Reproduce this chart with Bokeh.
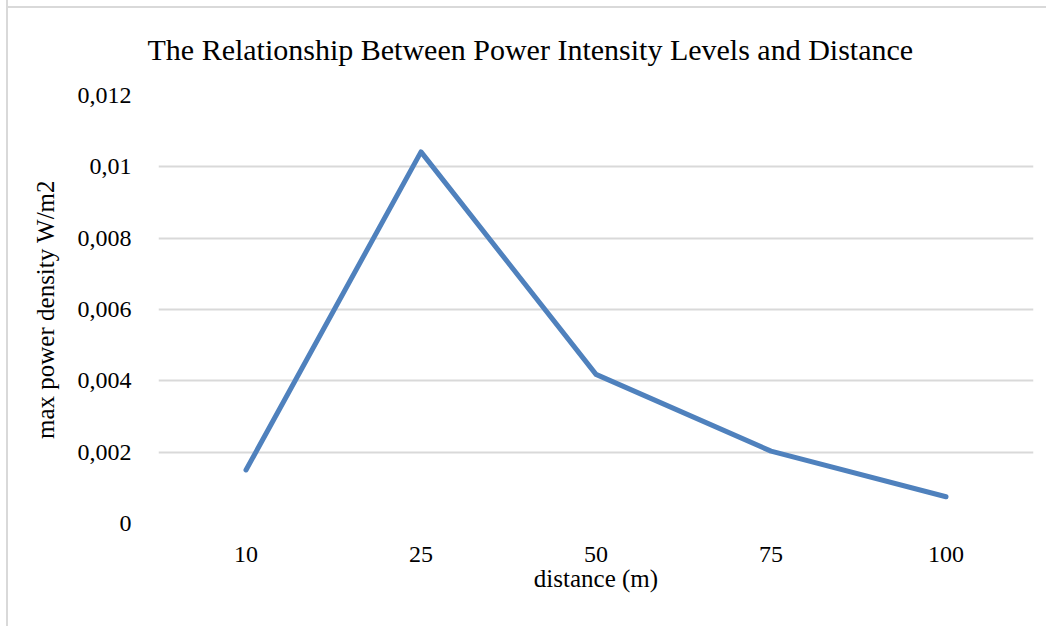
from bokeh.plotting import figure
from bokeh.models import FactorRange, Range1d, FixedTicker, CustomJSTickFormatter
from bokeh.embed import file_html
from bokeh.resources import INLINE

# Data
distances = ["10", "25", "50", "75", "100"]
power_density = [0.0015, 0.01042, 0.00418, 0.00203, 0.00075]
y_ticks = [0, 0.002, 0.004, 0.006, 0.008, 0.01, 0.012]
title_text = "The Relationship Between Power Intensity Levels and Distance"
x_label = "distance (m)"
y_label = "max power density W/m2"

FONT = "Liberation Serif"

p = figure(
    width=1040, height=626,
    x_range=FactorRange(*distances, range_padding=0),
    y_range=Range1d(0, 0.012),
    output_backend="svg", toolbar_location=None,
    min_border_left=150, min_border_right=15,
    min_border_top=93, min_border_bottom=103,
    title=title_text,
    styles={"margin-left": "6px", "margin-top": "0px",
            "border-left": "2px solid #d9d9d9",
            "background-color": "white",
            "background-image": "linear-gradient(#d9d9d9, #d9d9d9)",
            "background-size": "100% 2px",
            "background-position": "0px 6px",
            "background-repeat": "no-repeat"},
)
p.outline_line_color = None
p.background_fill_color = "white"
p.border_fill_color = None

p.title.text_font = FONT
p.title.text_font_size = "30px"
p.title.text_font_style = "normal"
p.title.text_color = "#000000"
p.title.text_line_height = 1.0
p.title.align = "left"
p.title.standoff = 60
p.title.offset = -11

p.line(distances, power_density, line_color="#4f81bd", line_width=5,
       line_cap="round", line_join="round")

# Y axis
p.yaxis.ticker = FixedTicker(ticks=y_ticks)
p.yaxis.formatter = CustomJSTickFormatter(code="""
    return String(parseFloat(tick.toFixed(6))).replace('.', ',');
""")
p.yaxis.axis_line_color = None
p.yaxis.major_tick_line_color = None
p.yaxis.minor_tick_line_color = None
p.yaxis.major_label_text_font = FONT
p.yaxis.major_label_text_font_size = "24px"
p.yaxis.major_label_text_color = "#000000"
p.yaxis.major_label_standoff = 21
p.yaxis.axis_label = y_label
p.yaxis.axis_label_text_font = FONT
p.yaxis.axis_label_text_font_size = "25px"
p.yaxis.axis_label_text_font_style = "normal"
p.yaxis.axis_label_text_color = "#000000"
p.yaxis.axis_label_standoff = 16

# X axis
p.xaxis.axis_line_color = None
p.xaxis.major_tick_line_color = None
p.xaxis.minor_tick_line_color = None
p.xaxis.major_label_text_font = FONT
p.xaxis.major_label_text_font_size = "24px"
p.xaxis.major_label_text_color = "#000000"
p.xaxis.major_label_standoff = 17
p.xaxis.axis_label = x_label
p.xaxis.axis_label_text_font = FONT
p.xaxis.axis_label_text_font_size = "25px"
p.xaxis.axis_label_text_font_style = "normal"
p.xaxis.axis_label_text_color = "#000000"
p.xaxis.axis_label_standoff = 0

p.xgrid.grid_line_color = None
p.ygrid.grid_line_color = "#d9d9d9"
p.ygrid.grid_line_width = 2

open("out.html", "w").write(file_html(p, INLINE))
